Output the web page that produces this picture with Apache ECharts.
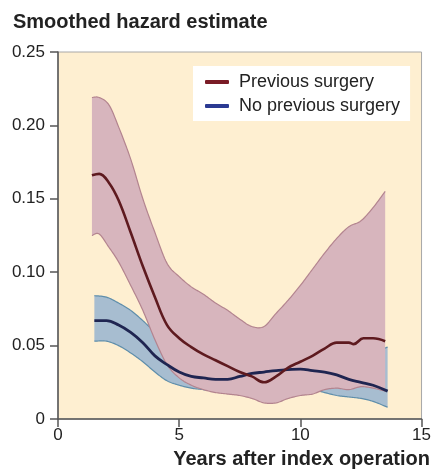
<!DOCTYPE html>
<html>
<head>
<meta charset="utf-8">
<script src="https://cdn.jsdelivr.net/npm/echarts@6/dist/echarts.min.js"></script>
<style>
html,body{margin:0;padding:0;background:#fff;}
#chart{width:434px;height:469px;}
</style>
</head>
<body>
<div id="chart"></div>
<script>
// ticks
var xTicks=[0,5,10,15];
var yTicks=[0,0.05,0.10,0.15,0.20,0.25];

// previous surgery: band (upper/lower) and estimate
var prevX=[1.4,1.7,2.1,2.5,3.0,3.5,4.0,4.5,5.0,5.5,6.0,6.5,7.0,7.5,8.0,8.5,9.0,9.5,10.0,10.5,11.0,11.5,12.0,12.5,13.0,13.5];
var prevUp=[0.219,0.219,0.214,0.199,0.177,0.150,0.127,0.106,0.097,0.090,0.085,0.079,0.074,0.068,0.063,0.063,0.072,0.081,0.091,0.102,0.113,0.123,0.131,0.135,0.144,0.155];
var prevLo=[0.125,0.126,0.117,0.107,0.091,0.074,0.054,0.037,0.028,0.023,0.020,0.018,0.017,0.016,0.014,0.011,0.011,0.014,0.016,0.017,0.020,0.021,0.020,0.022,0.021,0.019];
var prevEst=[[1.4,0.166],[1.7,0.167],[2.1,0.161],[2.5,0.149],[3.0,0.127],[3.5,0.104],[4.0,0.083],[4.5,0.064],[5.0,0.055],[5.5,0.049],[6.0,0.044],[6.5,0.040],[7.0,0.036],[7.5,0.032],[8.0,0.029],[8.5,0.025],[9.0,0.029],[9.5,0.035],[10.0,0.039],[10.5,0.043],[11.0,0.048],[11.5,0.052],[12.0,0.052],[12.2,0.051],[12.6,0.055],[13.0,0.055],[13.5,0.053]];

// no previous surgery
var noX=[1.5,2.0,2.5,3.0,3.5,4.0,4.5,5.0,5.5,6.0,6.5,7.0,7.5,8.0,8.5,9.0,9.5,10.0,10.5,11.0,11.5,12.0,12.5,13.0,13.6];
var noUp=[0.084,0.083,0.079,0.074,0.067,0.059,0.051,0.044,0.039,0.036,0.035,0.035,0.036,0.038,0.039,0.040,0.041,0.041,0.041,0.040,0.040,0.040,0.042,0.045,0.049];
var noLo=[0.053,0.053,0.050,0.045,0.039,0.032,0.026,0.023,0.021,0.020,0.019,0.018,0.018,0.018,0.018,0.019,0.019,0.020,0.020,0.018,0.016,0.015,0.014,0.012,0.008];
var noEst=[[1.5,0.067],[2.0,0.067],[2.5,0.064],[3.0,0.059],[3.5,0.052],[4.0,0.043],[4.5,0.037],[5.0,0.032],[5.5,0.029],[6.0,0.028],[6.5,0.027],[7.0,0.027],[7.5,0.029],[8.0,0.031],[8.5,0.032],[9.0,0.033],[10.0,0.034],[10.5,0.033],[11.0,0.032],[11.5,0.030],[12.0,0.027],[12.5,0.025],[13.0,0.023],[13.6,0.019]];

var names=['Previous surgery','No previous surgery'];

/*平滑曲线 (pixel space)*/
function smoothPts(pts){
	var out=[pts[0]];
	for(var i=0;i<pts.length-1;i++){
		var p0=pts[i-1]||pts[i],p1=pts[i],p2=pts[i+1],p3=pts[i+2]||pts[i+1];
		var c1=[p1[0]+(p2[0]-p0[0])/6,p1[1]+(p2[1]-p0[1])/6];
		var c2=[p2[0]-(p3[0]-p1[0])/6,p2[1]-(p3[1]-p1[1])/6];
		for(var k=1;k<=10;k++){
			var t=k/10,u=1-t;
			out.push([
				u*u*u*p1[0]+3*u*u*t*c1[0]+3*u*t*t*c2[0]+t*t*t*p2[0],
				u*u*u*p1[1]+3*u*u*t*c1[1]+3*u*t*t*c2[1]+t*t*t*p2[1]
			]);
		}
	}
	return out;
}
function bandRender(xs,up,lo,fill,edge){
	return function(params,api){
		if(params.dataIndex!==0){return null;}
		var U=[],L=[];
		for(var i=0;i<xs.length;i++){
			U.push(api.coord([xs[i],up[i]]));
			L.push(api.coord([xs[i],lo[i]]));
		}
		var su=smoothPts(U),sl=smoothPts(L);
		var poly=su.concat(sl.slice().reverse());
		return {type:'group',children:[
			{type:'polygon',shape:{points:poly},style:{fill:fill,stroke:null}},
			{type:'polyline',shape:{points:su},style:{fill:null,stroke:edge,lineWidth:1.2}},
			{type:'polyline',shape:{points:sl},style:{fill:null,stroke:edge,lineWidth:1.2}}
		]};
	};
}
function rows(xs,lo,up){
	var out=[];
	for(var i=0;i<xs.length;i++){out.push([xs[i],lo[i],up[i]]);}
	return out;
}

var font='Liberation Sans, Arial, sans-serif';
var myChart=echarts.init(document.getElementById('chart'));
var option={
	animation:false,
	backgroundColor:'#ffffff',
	title:[{
		text:'Smoothed hazard estimate',
		left:13,top:12,padding:0,
		textStyle:{fontFamily:font,fontSize:20,fontWeight:'bold',color:'#222',lineHeight:20}
	},{
		text:'Years after index operation',
		right:4,top:449,padding:0,
		textStyle:{fontFamily:font,fontSize:20,fontWeight:'bold',color:'#222',lineHeight:20}
	}],
	legend:{
		data:[
			{name:names[0],itemStyle:{color:'#7a1c26'}},
			{name:names[1],itemStyle:{color:'#2b3a92'}}
		],
		orient:'vertical',
		left:193,top:66,
		padding:[7,10,6,12],
		itemGap:6,
		itemWidth:24,itemHeight:4,
		icon:'roundRect',
		backgroundColor:'#ffffff',
		textStyle:{fontFamily:font,fontSize:18,color:'#222',padding:[0,0,0,5],lineHeight:18}
	},
	grid:{
		left:58,right:10,top:52,bottom:50,
		show:true,backgroundColor:'#feefd1',borderColor:'#a8a8a8',borderWidth:1
	},
	xAxis:{
		type:'value',min:0,max:15,interval:5,
		axisLine:{lineStyle:{color:'#555',width:1.5}},
		axisTick:{length:8,lineStyle:{color:'#555',width:1.5}},
		axisLabel:{margin:8,fontFamily:font,fontSize:17,color:'#222',
			formatter:function(v){return xTicks.indexOf(v)>=0?String(v):'';}},
		splitLine:{show:false}
	},
	yAxis:{
		type:'value',min:0,max:0.25,interval:0.05,
		axisLine:{show:true,lineStyle:{color:'#555',width:1.5}},
		axisTick:{show:true,length:8,lineStyle:{color:'#555',width:1.5}},
		axisLabel:{margin:13,fontFamily:font,fontSize:17,color:'#222',
			formatter:function(v){
				for(var i=0;i<yTicks.length;i++){
					if(Math.abs(yTicks[i]-v)<1e-9){return i===0?'0':yTicks[i].toFixed(2);}
				}
				return '';
			}},
		splitLine:{show:false}
	},
	series:[
		/*no previous surgery band*/
		{name:'noBand',type:'custom',data:rows(noX,noLo,noUp),encode:{x:0,y:[1,2]},silent:true,
			renderItem:bandRender(noX,noUp,noLo,'#a7bdd0','#5f8eab')},
		/*previous surgery band*/
		{name:'prevBand',type:'custom',data:rows(prevX,prevLo,prevUp),encode:{x:0,y:[1,2]},silent:true,
			renderItem:bandRender(prevX,prevUp,prevLo,'#d7b5bd','#b3848f')},
		/*estimates*/
		{name:names[1],type:'line',data:noEst,smooth:0.4,symbol:'none',
			itemStyle:{color:'#1f2551'},lineStyle:{color:'#1f2551',width:2.8}},
		{name:names[0],type:'line',data:prevEst,smooth:0.4,symbol:'none',
			itemStyle:{color:'#5e1a1f'},lineStyle:{color:'#5e1a1f',width:2.6}}
	]
};
myChart.setOption(option);
</script>
</body>
</html>
